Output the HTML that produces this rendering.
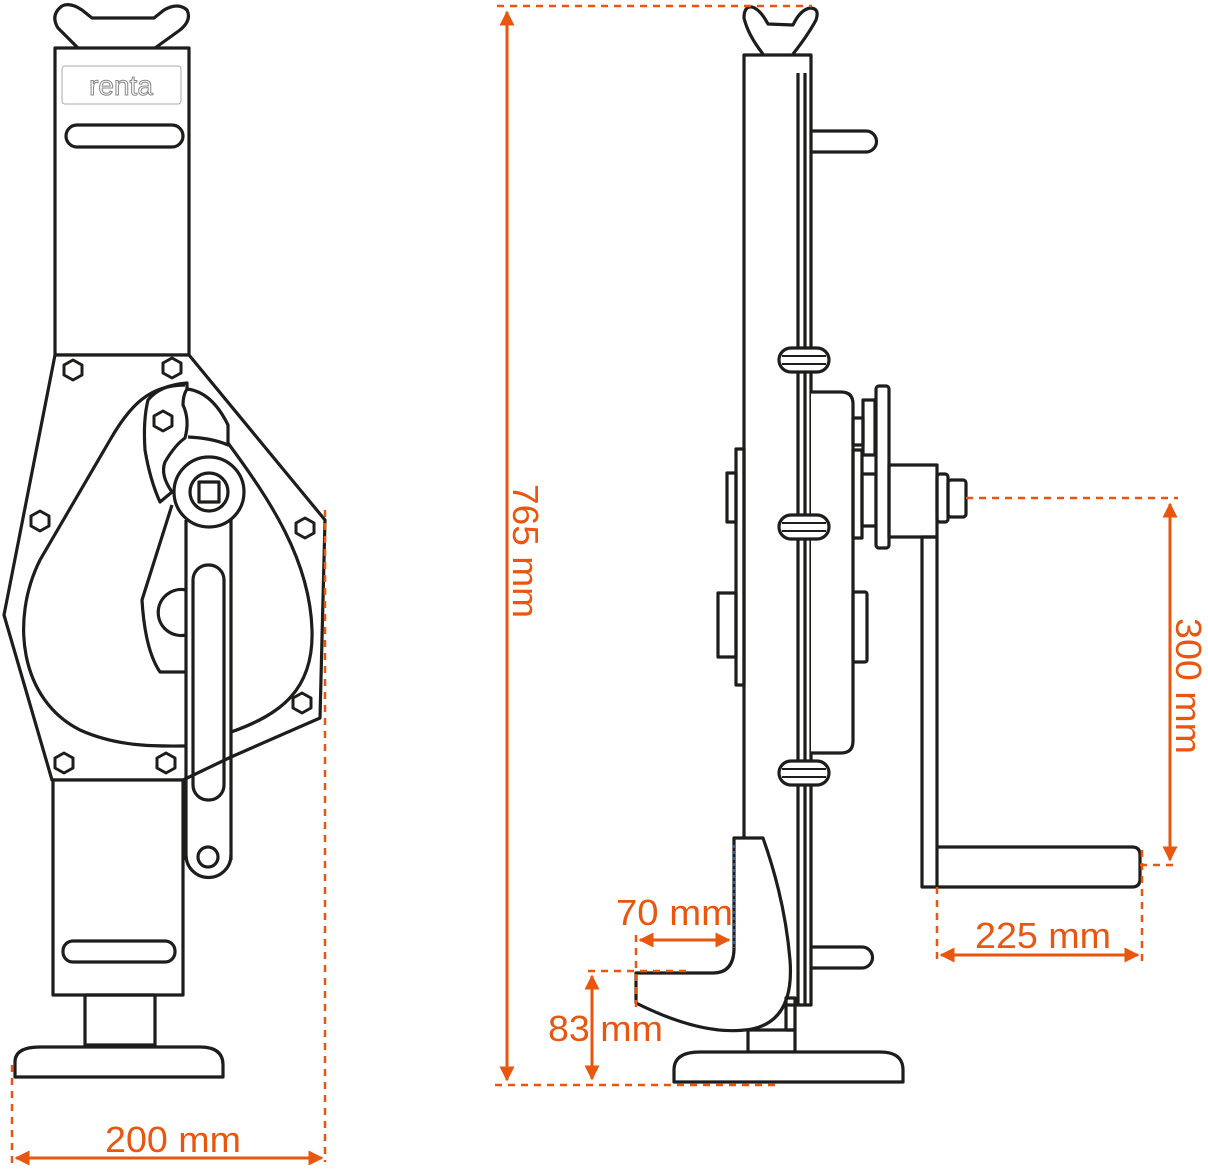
<!DOCTYPE html>
<html><head><meta charset="utf-8"><style>html,body{margin:0;padding:0;background:#fff}svg{display:block}</style></head><body>
<svg width="1208" height="1172" viewBox="0 0 1208 1172" xmlns="http://www.w3.org/2000/svg">
<defs>
<marker id="ah" viewBox="0 0 10 10" refX="9" refY="5" markerWidth="5" markerHeight="5" orient="auto-start-reverse" markerUnits="strokeWidth"><path d="M0,0 L10,5 L0,10 Z" fill="#e8560f"/></marker>
</defs>
<g fill="none" stroke="#1d1d1b" stroke-width="3.2" stroke-linejoin="round">
<path d="M78,48 L58,28 Q50,15 62,6 Q70,2 82,10 L92,18 L154,18 L164,10 Q178,2 187,10 Q192,20 180,30 L155,48" fill="#fff"/>
<rect x="55" y="48" width="134" height="307" fill="#fff"/>
<rect x="62" y="66" width="119" height="38" rx="3" stroke="#aaa" stroke-width="1"/>
<rect x="66" y="125" width="117" height="22" rx="11"/>
<polygon points="55,355 189,355 325,520 320,718 231,757 183,780 52,780 4,615" fill="#fff"/>
<path d="M185,385 C150,385 130,405 110,440 L40,560 C10,620 20,700 80,730 C120,748 160,746 186,746"/>
<path d="M228,443 C270,500 310,560 312,630 C314,690 280,715 231,732"/>
<path d="M187,383 Q160,385 148,400 Q143,420 145,450 Q150,480 160,502 L172,492 Q160,475 165,462 Q175,445 185,438 Q190,420 183,405 Q183,395 187,389 Z"/>
<path d="M187,389 Q212,392 228,425 L228,445 Q212,438 188,437"/>
<path d="M172,505 L142,600 Q145,650 160,672 L186,672"/>
<path d="M186,590 A23,23 0 1 0 186,635"/>
<path d="M186,520 L186,860 M231,520 L231,860"/>
<path d="M186,855 A22,22 0 0 0 231,855"/>
<rect x="193" y="565" width="31" height="235" rx="15"/>
<circle cx="208" cy="857" r="10"/>
<circle cx="209" cy="492" r="35" fill="#fff"/>
<circle cx="209" cy="492" r="19"/>
<rect x="199" y="482" width="20" height="20"/>
<g stroke-width="3">
<polygon points="73,360 82,365 82,375 73,380 64,375 64,365"/>
<polygon points="172,358 181,363 181,373 172,378 163,373 163,363"/>
<polygon points="163,411 172,416 172,426 163,431 154,426 154,416"/>
<polygon points="40,511 49,516 49,526 40,531 31,526 31,516"/>
<polygon points="305,518 314,523 314,533 305,538 296,533 296,523"/>
<polygon points="302,693 311,698 311,708 302,713 293,708 293,698"/>
<polygon points="64,753 73,758 73,768 64,773 55,768 55,758"/>
<polygon points="166,753 175,758 175,768 166,773 157,768 157,758"/>
</g>
<rect x="53" y="780" width="130" height="215" fill="#fff"/>
<rect x="63" y="941" width="112" height="21" rx="10"/>
<rect x="85" y="995" width="70" height="50"/>
<path d="M15,1077 L15,1062 Q15,1047 40,1047 L200,1047 Q223,1047 223,1065 L223,1077 Z" fill="#fff"/>

<path d="M763,54 Q748,35 744,18 Q744,6 752,7 Q760,9 768,24 L793,25 Q800,10 810,8 Q820,8 816,20 Q808,35 793,54"/>
<rect x="744" y="55" width="67" height="950" fill="#fff"/>
<path d="M798,73 L798,1005 M805,73 L805,1005"/>
<path d="M811,131 L866,131 A10.5,10.5 0 0 1 866,152 L811,152"/>
<path d="M811,947 L862,947 A10.5,10.5 0 0 1 862,968 L811,968"/>
<path d="M811,392 L841,392 Q853,392 853,404 L853,741 Q853,753 841,753 L811,753" fill="#fff"/>
<g fill="#fff">
<rect x="779" y="348" width="50" height="24" rx="12"/>
<rect x="779" y="515" width="50" height="24" rx="12"/>
<rect x="779" y="761" width="50" height="24" rx="12"/>
</g>
<path d="M782,356 L826,356 M782,364 L826,364 M782,523 L826,523 M782,531 L826,531 M782,769 L826,769 M782,777 L826,777" stroke-width="2"/>
<rect x="736" y="449" width="8" height="236"/>
<rect x="727" y="473" width="9" height="49"/>
<rect x="718" y="593" width="18" height="64"/>
<rect x="853" y="592" width="14" height="70" rx="2"/>
<rect x="853" y="418" width="10" height="27"/>
<rect x="863" y="400" width="12" height="55"/>
<rect x="853" y="450" width="9" height="88"/>
<rect x="862" y="474" width="14" height="52"/>
<rect x="876" y="386" width="13" height="162" rx="3" fill="#fff"/>
<rect x="889" y="465" width="48" height="72"/>
<rect x="937" y="474" width="11" height="48" rx="3"/>
<rect x="948" y="480" width="18" height="37" rx="3"/>
<rect x="922" y="537" width="15" height="350"/>
<path d="M937,847 L1132,847 Q1140,847 1140,855 L1140,879 Q1140,887 1132,887 L937,887"/>
<path d="M734,838 L763,838 Q785,900 790,960 Q795,1025 745,1030 Q700,1035 636,1003 L636,973 L713,973 Q733,973 734,950 Z" fill="#fff"/>
<rect x="748" y="1030" width="47" height="22"/>
<rect x="786" y="998" width="9" height="32"/>
<path d="M674,1082 L674,1070 Q674,1052 700,1052 L880,1052 Q903,1052 903,1070 L903,1082 Z" fill="#fff"/>
</g>
<path d="M734,845 L734,948" stroke="#2a5ea8" stroke-width="2" stroke-dasharray="3,3"/>

<g stroke="#e8560f" stroke-width="2.5" fill="none" stroke-dasharray="7,6">
<path d="M325,510 L325,1162"/>
<path d="M12,1065 L12,1165"/>
<path d="M497,6 L812,6"/>
<path d="M495,1085 L780,1085"/>
<path d="M966,498 L1178,498"/>
<path d="M1140,865 L1178,865"/>
<path d="M937,887 L937,962"/>
<path d="M1142,850 L1142,962"/>
<path d="M636,935 L636,1010"/>
<path d="M588,971 L690,971"/>
</g>
<g stroke="#e8560f" stroke-width="3" fill="none">
<path d="M16,1158 L322,1158" marker-start="url(#ah)" marker-end="url(#ah)"/>
<path d="M507,12 L507,1080" marker-start="url(#ah)" marker-end="url(#ah)"/>
<path d="M1170,504 L1170,860" marker-start="url(#ah)" marker-end="url(#ah)"/>
<path d="M941,955 L1138,955" marker-start="url(#ah)" marker-end="url(#ah)"/>
<path d="M640,940 L729,940" marker-start="url(#ah)" marker-end="url(#ah)"/>
<path d="M592,976 L592,1079" marker-start="url(#ah)" marker-end="url(#ah)"/>
</g>
<g fill="#e8560f" font-family="'Liberation Sans Narrow','Liberation Sans',sans-serif" font-size="36">
<text x="105" y="1152" textLength="136" lengthAdjust="spacingAndGlyphs">200 mm</text>
<text x="975" y="948" textLength="136" lengthAdjust="spacingAndGlyphs">225 mm</text>
<text x="616" y="925" textLength="117" lengthAdjust="spacingAndGlyphs">70 mm</text>
<text x="548" y="1041" textLength="115" lengthAdjust="spacingAndGlyphs">83 mm</text>
<text transform="translate(513,484) rotate(90)" textLength="134" lengthAdjust="spacingAndGlyphs">765 mm</text>
<text transform="translate(1176,618) rotate(90)" textLength="136" lengthAdjust="spacingAndGlyphs">300 mm</text>
</g>
<text x="121" y="95" text-anchor="middle" font-family="'Liberation Sans',sans-serif" font-size="28" fill="#fff" stroke="#888" stroke-width="1">renta</text>
</svg>
</body></html>
